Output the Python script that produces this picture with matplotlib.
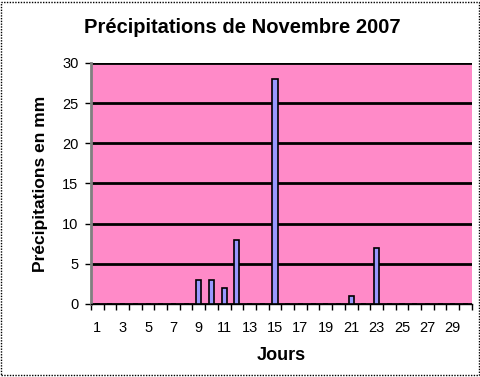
import matplotlib
matplotlib.use("Agg")
import matplotlib.pyplot as plt
import numpy as np
from matplotlib.patches import Rectangle

days = list(range(1, 31))
rain = [0, 0, 0, 0, 0, 0, 0, 0, 3, 3, 2, 8, 0, 0, 28, 0, 0, 0, 0, 0, 1, 0, 7, 0, 0, 0, 0, 0, 0, 0]
tick_labels = [str(d) if d % 2 == 1 else "" for d in days]

plt.rcParams['font.family'] = ['Liberation Sans', 'DejaVu Sans']

fig = plt.figure(figsize=(4.81, 3.77), dpi=100)
ax = fig.add_axes([0.189, 0.194, 0.792, 0.639])

ax.set_facecolor("#ff8ac8")
x = np.arange(len(days))
ax.bar(x, rain, width=0.4, color="#9999ff", edgecolor="black", linewidth=1.2, zorder=3)

ax.set_xlim(-0.5, len(days) - 0.5)
ax.set_ylim(0, 30)
ax.set_yticks(range(0, 31, 5))
ax.yaxis.grid(True, color="black", linewidth=2, zorder=1)
ax.set_axisbelow(True)

ax.set_xticks(x)
ax.set_xticklabels(tick_labels, fontsize=10.5)
ax.set_xticks(np.arange(-0.5, len(days), 1), minor=True)
ax.tick_params(axis="x", which="major", length=0, pad=12)
ax.tick_params(axis="x", which="minor", length=4, width=1, direction="out", color="black")
ax.tick_params(axis="y", labelsize=10.5, length=4, width=1, pad=5)

for s in ["top", "right"]:
    ax.spines[s].set_visible(False)
ax.spines["left"].set_color("#808080")
ax.spines["left"].set_linewidth(2)
ax.spines["bottom"].set_color("black")
ax.spines["bottom"].set_linewidth(1)

ax.set_xlabel("Jours", fontsize=13, fontweight="bold", labelpad=9)
ax.set_ylabel("Précipitations en mm", fontsize=12.5, fontweight="bold", labelpad=10)
fig.text(0.503, 0.928, "Précipitations de Novembre 2007", ha="center", va="center",
         fontsize=14.5, fontweight="bold")

fig.patches.append(Rectangle((0.003, 0.004), 0.992, 0.99, transform=fig.transFigure,
                             fill=False, edgecolor="black", linewidth=1, linestyle=(0, (1, 1))))

fig.savefig("out.png", dpi=100)
